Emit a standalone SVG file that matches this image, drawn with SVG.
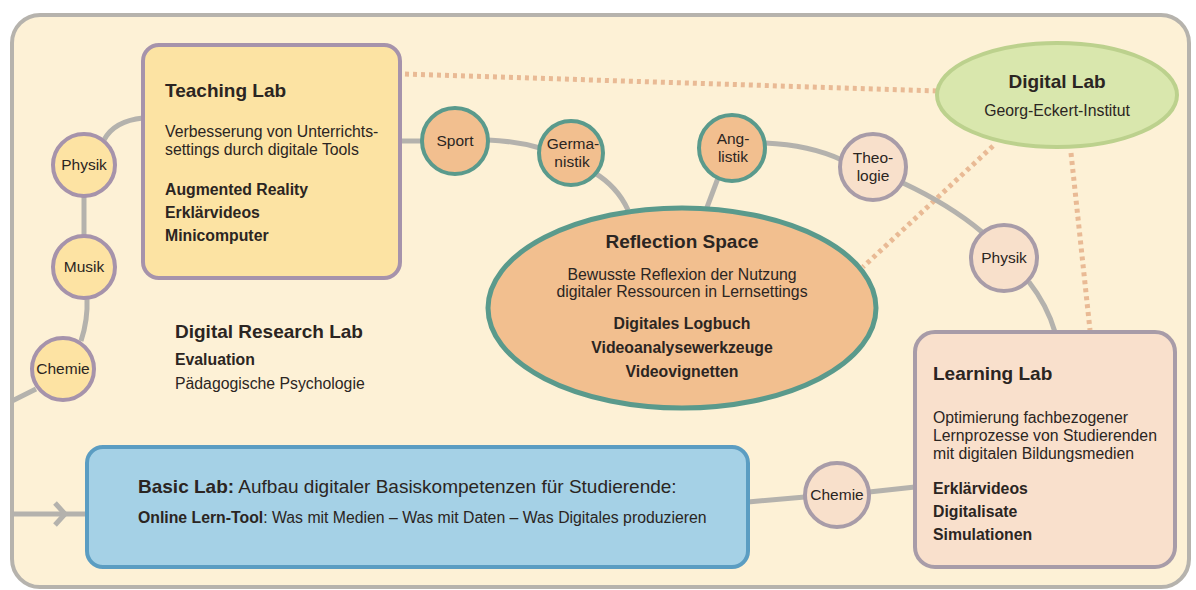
<svg xmlns="http://www.w3.org/2000/svg" width="1196" height="590" viewBox="0 0 1196 590">
<style>
text{font-family:"Liberation Sans",Arial,sans-serif;fill:#2b2522}
.t{font-size:19px;font-weight:bold}
.b{font-size:15.8px}
.bb{font-size:15.8px;font-weight:bold}
.c{font-size:15.5px;text-anchor:middle}
.m{text-anchor:middle}
.con{fill:none;stroke:#b4b2ad;stroke-width:5}
.dot{fill:none;stroke:#e9ba95;stroke-width:5;stroke-dasharray:4 4}
.cy{fill:#fde3a3;stroke:#a693ab;stroke-width:4}
.co{fill:#f2bf8f;stroke:#5a9a8c;stroke-width:4}
.cp{fill:#f8e0cb;stroke:#a89ca8;stroke-width:4}
</style>
<rect x="0" y="0" width="1196" height="590" fill="#ffffff"/>
<rect id="frame" x="12" y="15" width="1177" height="572" rx="28" fill="#fdf1d6" stroke="#b6b3ad" stroke-width="4"/>

<g id="connectors">
  <path class="dot" d="M405,74 L937,91"/>
  <path class="dot" d="M993,146 L863,267"/>
  <path class="dot" d="M1071,153 L1090,330"/>
  <path class="con" d="M143,118 Q114,121 104,140"/>
  <path class="con" d="M84,197 L84,235"/>
  <path class="con" d="M87,298 Q88,320 81,341"/>
  <path class="con" d="M36,389 L12,401"/>
  <path class="con" d="M400,141 L422,141"/>
  <path class="con" d="M488,140 Q515,141 540,148"/>
  <path class="con" d="M593,172 Q617,186 628,210"/>
  <path class="con" d="M718,178 L706,210"/>
  <path class="con" d="M765,143 Q810,145 842,160"/>
  <path class="con" d="M903,183 Q950,205 982,232"/>
  <path class="con" d="M1029,282 Q1047,305 1055,332"/>
  <path class="con" d="M748,502 L805,497"/>
  <path class="con" d="M869,492 L915,487"/>
  <path class="con" d="M12,514 L87,514"/>
  <polyline class="con" points="55,503 65,514 55,525"/>
</g>

<g id="teaching-lab">
  <rect x="143" y="45" width="257" height="233" rx="16" fill="#fce3a3" stroke="#a693ab" stroke-width="4"/>
  <text class="t" x="165" y="97">Teaching Lab</text>
  <text class="b" x="165" y="137">Verbesserung von Unterrichts-</text>
  <text class="b" x="165" y="155">settings durch digitale Tools</text>
  <text class="bb" x="165" y="195">Augmented Reality</text>
  <text class="bb" x="165" y="218">Erklärvideos</text>
  <text class="bb" x="165" y="241">Minicomputer</text>
</g>

<g id="physik-left"><circle class="cy" cx="84" cy="165" r="31"/><text class="c" x="84" y="170">Physik</text></g>
<g id="musik"><circle class="cy" cx="84" cy="267" r="31"/><text class="c" x="84" y="272">Musik</text></g>
<g id="chemie-left"><circle class="cy" cx="63" cy="369" r="31"/><text class="c" x="63" y="374">Chemie</text></g>

<g id="digital-research-lab">
  <text class="t" x="175" y="338">Digital Research Lab</text>
  <text class="bb" x="175" y="365">Evaluation</text>
  <text class="b" x="175" y="389">Pädagogische Psychologie</text>
</g>

<g id="sport"><circle class="co" cx="455" cy="141" r="33"/><text class="c" x="455" y="146">Sport</text></g>
<g id="germanistik"><circle class="co" cx="571" cy="153" r="32"/><text class="c" x="573" y="149">Germa-</text><text class="c" x="572" y="167">nistik</text></g>
<g id="anglistik"><circle class="co" cx="732" cy="148" r="33"/><text class="c" x="733" y="144">Ang-</text><text class="c" x="733" y="162">listik</text></g>

<g id="reflection-space">
  <ellipse cx="682" cy="308" rx="194" ry="100" fill="#f2bf8f" stroke="#5a9a8c" stroke-width="5"/>
  <text class="t m" x="682" y="248">Reflection Space</text>
  <text class="b m" x="682" y="280">Bewusste Reflexion der Nutzung</text>
  <text class="b m" x="682" y="297">digitaler Ressourcen in Lernsettings</text>
  <text class="bb m" x="682" y="329">Digitales Logbuch</text>
  <text class="bb m" x="682" y="353">Videoanalysewerkzeuge</text>
  <text class="bb m" x="682" y="377">Videovignetten</text>
</g>

<g id="digital-lab">
  <ellipse cx="1057" cy="95" rx="120" ry="52" fill="#d9e7ad" stroke="#bcd18d" stroke-width="4"/>
  <text class="t m" x="1057" y="88">Digital Lab</text>
  <text class="m" x="1057" y="116" style="font-size:15.8px">Georg-Eckert-Institut</text>
</g>

<g id="theologie"><circle class="cp" cx="873" cy="167" r="33"/><text class="c" x="873" y="163">Theo-</text><text class="c" x="873" y="181">logie</text></g>
<g id="physik-right"><circle class="cp" cx="1004" cy="258" r="33"/><text class="c" x="1004" y="263">Physik</text></g>
<g id="chemie-right"><circle class="cp" cx="837" cy="495" r="32"/><text class="c" x="837" y="500">Chemie</text></g>

<g id="learning-lab">
  <rect x="915" y="332" width="260" height="235" rx="20" fill="#f9e0cc" stroke="#a89ca8" stroke-width="4"/>
  <text class="t" x="933" y="380">Learning Lab</text>
  <text class="b" x="933" y="423">Optimierung fachbezogener</text>
  <text class="b" x="933" y="441">Lernprozesse von Studierenden</text>
  <text class="b" x="933" y="459">mit digitalen Bildungsmedien</text>
  <text class="bb" x="933" y="494">Erklärvideos</text>
  <text class="bb" x="933" y="517">Digitalisate</text>
  <text class="bb" x="933" y="540">Simulationen</text>
</g>

<g id="basic-lab">
  <rect x="87" y="447" width="661" height="120" rx="16" fill="#a5d1e6" stroke="#5b9dc2" stroke-width="4"/>
  <text x="138" y="493" style="font-size:19px"><tspan font-weight="bold">Basic Lab:</tspan> Aufbau digitaler Basiskompetenzen für Studierende:</text>
  <text x="138" y="523" style="font-size:15.8px"><tspan font-weight="bold">Online Lern-Tool</tspan>: Was mit Medien – Was mit Daten – Was Digitales produzieren</text>
</g>
</svg>
